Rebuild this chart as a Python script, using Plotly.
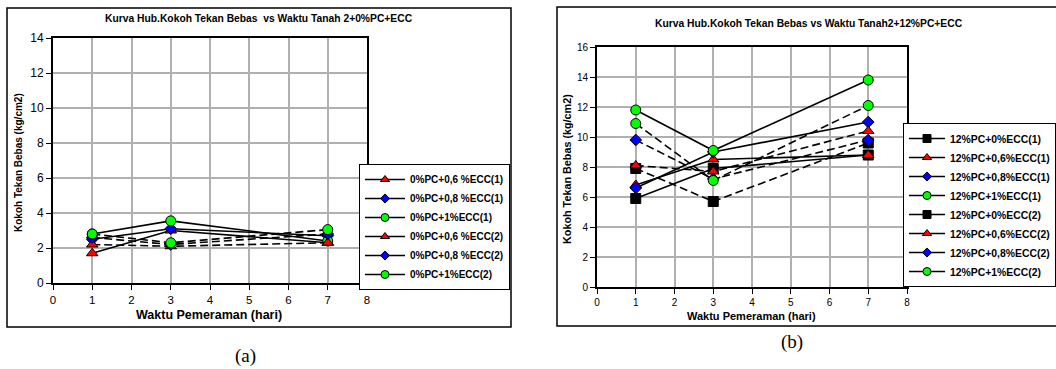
import plotly.graph_objects as go

W, H = 1056, 369
def px(x): return x / W
def py(y): return 1 - y / H

days = [1, 3, 7]

# Panel (a): Tanah 2 + 0%PC + ECC
a_names = ["0%PC+0,6 %ECC(1)", "0%PC+0,8 %ECC(1)", "0%PC+1%ECC(1)",
           "0%PC+0,6 %ECC(2)", "0%PC+0,8 %ECC(2)", "0%PC+1%ECC(2)"]
a_06_1 = [1.7, 3.0, 2.3]
a_08_1 = [2.5, 3.1, 2.7]
a_10_1 = [2.8, 3.55, 2.4]
a_06_2 = [2.2, 2.1, 2.3]
a_08_2 = [2.6, 2.2, 2.8]
a_10_2 = [2.8, 2.3, 3.05]
a_vals = [a_06_1, a_08_1, a_10_1, a_06_2, a_08_2, a_10_2]

# Panel (b): Tanah 2 + 12%PC + ECC
b_names = ["12%PC+0%ECC(1)", "12%PC+0,6%ECC(1)", "12%PC+0,8%ECC(1)", "12%PC+1%ECC(1)",
           "12%PC+0%ECC(2)", "12%PC+0,6%ECC(2)", "12%PC+0,8%ECC(2)", "12%PC+1%ECC(2)"]
b_00_1 = [5.9, 7.9, 8.8]
b_06_1 = [6.8, 8.5, 8.8]
b_08_1 = [6.6, 9.0, 11.0]
b_10_1 = [11.8, 9.1, 13.8]
b_00_2 = [7.9, 5.7, 9.6]
b_06_2 = [8.1, 7.7, 10.4]
b_08_2 = [9.8, 7.2, 9.8]
b_10_2 = [10.9, 7.1, 12.1]
b_vals = [b_00_1, b_06_1, b_08_1, b_10_1, b_00_2, b_06_2, b_08_2, b_10_2]

x_ticks = [0, 1, 2, 3, 4, 5, 6, 7, 8]

sym = {"tri": ("triangle-up", "#ff0000", 10, 8), "dia": ("diamond", "#0000ff", 9, 7),
       "cir": ("circle", "#00ff00", 10, 8), "sq": ("square", "#000000", 10, 8)}
a_styles = ["tri", "dia", "cir", "tri", "dia", "cir"]
b_styles = ["sq", "tri", "dia", "cir", "sq", "tri", "dia", "cir"]
DASH = "8px,4px"

fig = go.Figure()

def add_series(names, vals, styles, n_solid, xa, ya, leg):
    for i, (n, v) in enumerate(zip(names, vals)):
        s, c, sz, lsz = sym[styles[i]]
        dash = "solid" if i < n_solid else DASH
        fig.add_trace(go.Scatter(
            x=days, y=v, name=n, mode="lines+markers", xaxis=xa, yaxis=ya, showlegend=False,
            line=dict(color="black", width=1.6, dash=dash),
            marker=dict(symbol=s, color=c, size=sz, line=dict(color="black", width=1))))
    # legend entries with the smaller legend markers
    for i, n in enumerate(names):
        s, c, sz, lsz = sym[styles[i]]
        fig.add_trace(go.Scatter(
            x=[None], y=[None], name=n, mode="lines+markers", xaxis=xa, yaxis=ya, legend=leg,
            line=dict(color="black", width=1.6, dash="solid"),
            marker=dict(symbol=s, color=c, size=lsz, line=dict(color="black", width=1))))

add_series(a_names, a_vals, a_styles, 3, "x", "y", "legend")
add_series(b_names, b_vals, b_styles, 4, "x2", "y2", "legend2")

FONT = "Liberation Sans, Arial, sans-serif"
axis_common = dict(showgrid=True, gridcolor="#b0b0b0", gridwidth=1.5, zeroline=False,
                   showline=True, linecolor="black", linewidth=2, mirror=True,
                   ticks="outside", ticklen=5, tickcolor="black", tickwidth=1)

fig.update_layout(
    width=W, height=H, autosize=False,
    margin=dict(l=0, r=0, t=0, b=0, autoexpand=False),
    paper_bgcolor="white", plot_bgcolor="white",
    font=dict(family=FONT, color="black"),
    xaxis=dict(domain=[px(53), px(367)], range=[0, 8], tickvals=x_ticks, anchor="y",
               tickfont=dict(size=11.5), **axis_common),
    yaxis=dict(domain=[py(283), py(38)], range=[0, 14], dtick=2, anchor="x",
               tickfont=dict(size=12), **axis_common),
    xaxis2=dict(domain=[px(597), px(907)], range=[0, 8], tickvals=x_ticks, anchor="y2",
                tickfont=dict(size=10), **axis_common),
    yaxis2=dict(domain=[py(287), py(47)], range=[0, 16], dtick=2, anchor="x2",
                tickfont=dict(size=10), **axis_common),
    legend=dict(x=px(359), y=py(164), xanchor="left", yanchor="top", itemwidth=40,
                bordercolor="black", borderwidth=1, bgcolor="white",
                font=dict(size=10, family=FONT, weight="bold"), tracegroupgap=0),
    legend2=dict(x=px(903), y=py(123), xanchor="left", yanchor="top", itemwidth=36,
                 bordercolor="black", borderwidth=1, bgcolor="white",
                 font=dict(size=10.4, family=FONT, weight="bold"), tracegroupgap=0),
    showlegend=True,
)

shapes = [
    dict(type="rect", xref="paper", yref="paper", x0=px(7), x1=px(511), y0=py(327), y1=py(8),
         line=dict(color="black", width=1.5), layer="below"),
    dict(type="rect", xref="paper", yref="paper", x0=px(557), x1=px(1070), y0=py(326), y1=py(7),
         line=dict(color="black", width=1.5), layer="below"),
]
fig.update_layout(shapes=shapes)

ann = [
    dict(text="<b>Kurva Hub.Kokoh Tekan Bebas  vs Waktu Tanah 2+0%PC+ECC</b>", x=px(259), y=py(18),
         font=dict(size=10.3)),
    dict(text="<b>Kurva Hub.Kokoh Tekan Bebas vs Waktu Tanah2+12%PC+ECC</b>", x=px(809), y=py(23),
         font=dict(size=10.3)),
    dict(text="<b>Waktu Pemeraman (hari)</b>", x=px(209), y=py(315), font=dict(size=12.5)),
    dict(text="<b>Waktu Pemeraman (hari)</b>", x=px(751), y=py(316), font=dict(size=11)),
    dict(text="<b>Kokoh Tekan Bebas (kg/cm2)</b>", x=px(18), y=py(163), textangle=-90,
         font=dict(size=10)),
    dict(text="<b>Kokoh Tekan Bebas (kg/cm2)</b>", x=px(567), y=py(169), textangle=-90,
         font=dict(size=10.8)),
    dict(text="(a)", x=px(245), y=py(356), font=dict(size=19, family="Liberation Serif, Times New Roman, serif")),
    dict(text="(b)", x=px(792), y=py(342), font=dict(size=19, family="Liberation Serif, Times New Roman, serif")),
]
for a in ann:
    a.update(xref="paper", yref="paper", showarrow=False, xanchor="center", yanchor="middle")
fig.update_layout(annotations=ann)

fig.write_html("out.html", config={"displayModeBar": False},
               post_script="document.body.style.margin='0';document.body.style.overflow='hidden';")
